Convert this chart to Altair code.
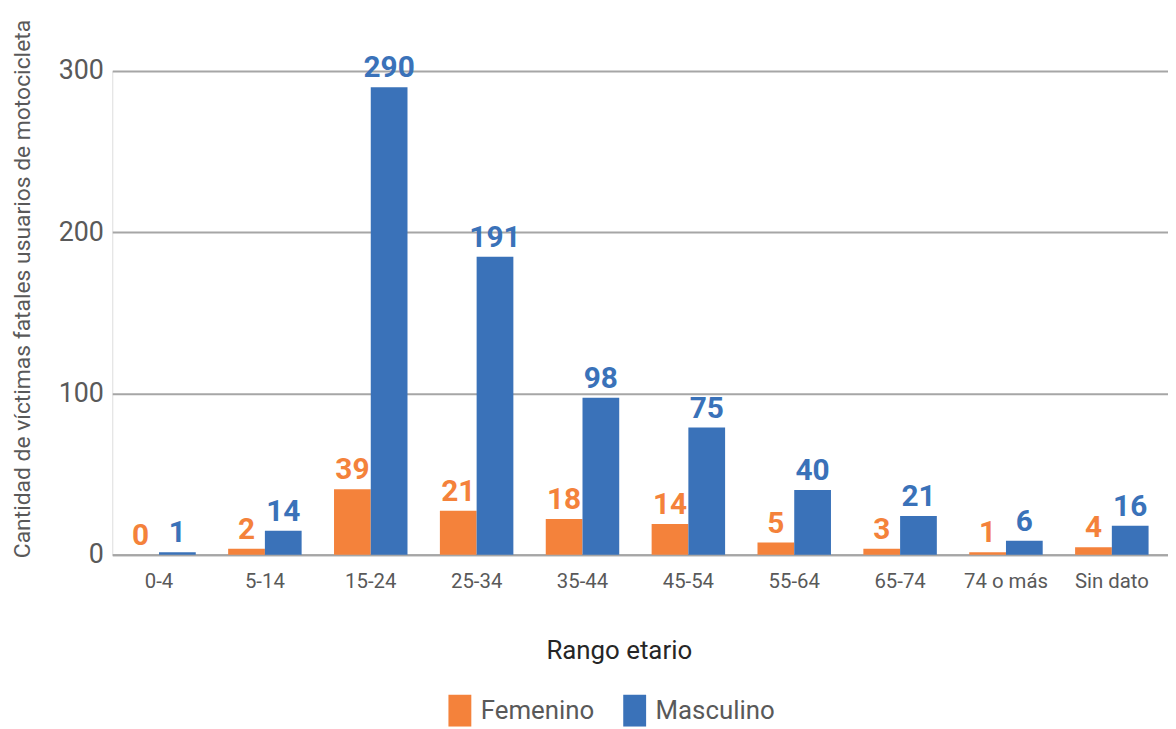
import altair as alt
import pandas as pd

categories = ["0-4", "5-14", "15-24", "25-34", "35-44", "45-54", "55-64", "65-74", "74 o más", "Sin dato"]
series = ["Femenino", "Masculino"]
# bar heights as drawn
femenino_bar = [0, 3.7, 40.6, 27.3, 22.2, 19.1, 7.6, 3.7, 1.5, 4.6]
masculino_bar = [1.5, 14.8, 290, 184.8, 97.3, 78.9, 40.1, 24, 8.6, 17.9]
# data labels as printed
femenino_lbl = [0, 2, 39, 21, 18, 14, 5, 3, 1, 4]
masculino_lbl = [1, 14, 290, 191, 98, 75, 40, 21, 6, 16]
colors = ["#F4823B", "#3A72B9"]

rows = []
for i, c in enumerate(categories):
    rows.append({"cat": c, "sexo": "Femenino", "v": femenino_bar[i], "lbl": str(femenino_lbl[i])})
    rows.append({"cat": c, "sexo": "Masculino", "v": masculino_bar[i], "lbl": str(masculino_lbl[i])})
df = pd.DataFrame(rows)

FONT = "Roboto"
GREY = "#595959"

x = alt.X("cat:N", sort=categories,
          scale=alt.Scale(paddingInner=0.306, paddingOuter=0.139, align=0.34),
          axis=alt.Axis(title="Rango etario", labelAngle=0, labelFontSize=20.5, labelColor=GREY,
                        labelFont=FONT, labelPadding=17, ticks=False, domainColor="#A6A6A6",
                        domainWidth=2, titleFont=FONT, titleFontSize=26, titleColor="#262626",
                        titleFontWeight="normal", titlePadding=46, titleX=510, titleAlign="center"))
y = alt.Y("v:Q", scale=alt.Scale(domain=[0, 300]),
          axis=alt.Axis(title="Cantidad de víctimas fatales usuarios de motocicleta",
                        values=[0, 100, 200, 300], labelFontSize=27, labelColor=GREY, labelFont=FONT,
                        labelPadding=9, ticks=False, domain=False, gridColor="#A6A6A6", gridWidth=2,
                        titleFont=FONT, titleFontSize=23, titleColor=GREY, titleFontWeight="normal",
                        titleX=-90, titleY=219, titleBaseline="middle", titleAlign="center"))
color_scale = alt.Scale(domain=series, range=colors)

bars = alt.Chart(df).mark_bar().encode(
    x=x, y=y, xOffset=alt.XOffset("sexo:N", sort=series),
    color=alt.Color("sexo:N", scale=color_scale, sort=series,
                    legend=alt.Legend(title=None, orient="none", direction="horizontal",
                                      legendX=334, legendY=628, labelFont=FONT, labelFontSize=26,
                                      labelColor=GREY, symbolType="M-0.72,-1L0.72,-1L0.72,1L-0.72,1Z",
                                      symbolSize=1024, symbolStrokeWidth=0, symbolOpacity=1,
                                      labelOffset=5, columnPadding=24))
)
text = alt.Chart(df).mark_text(baseline="bottom", dy=-4, fontSize=30, fontWeight="bold", font=FONT).encode(
    x=alt.X("cat:N", sort=categories), y="v:Q",
    xOffset=alt.XOffset("sexo:N", sort=series),
    text="lbl:N",
    color=alt.Color("sexo:N", scale=color_scale, sort=series, legend=None)
)

chart = (bars + text).properties(
    width=1063, height=487,
    autosize=alt.AutoSizeParams(type="none"),
    padding={"left": 105, "top": 61, "right": 0, "bottom": 173},
).configure_view(stroke=None).configure(font=FONT)

chart.save("out.html", embed_options={"renderer": "svg", "actions": False})
